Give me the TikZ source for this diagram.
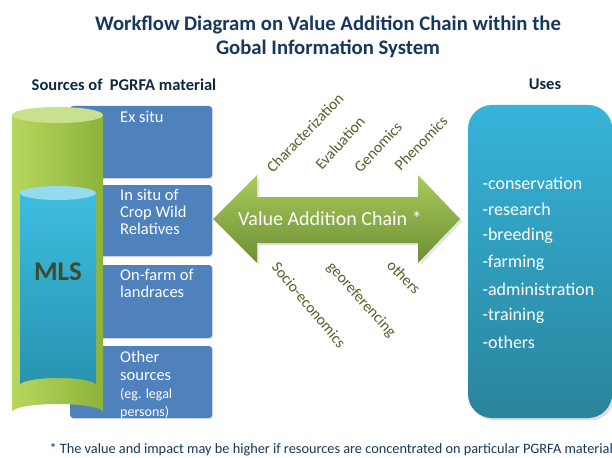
\documentclass[tikz,border=0pt]{standalone}
\usepackage{fontspec}
\setmainfont{Carlito}
\usetikzlibrary{shadows}
\definecolor{titleblue}{HTML}{17375E}
\definecolor{boxblue}{HTML}{4F81BD}
\definecolor{darkgreen}{HTML}{4F6228}
\definecolor{glight}{HTML}{B8D65E}
\definecolor{gdark}{HTML}{8DB33A}
\definecolor{gtop}{HTML}{C9E08F}
\definecolor{btop}{HTML}{93DCEF}
\definecolor{blight}{HTML}{3EBDE0}
\definecolor{bdark}{HTML}{2793AF}
\definecolor{alight}{HTML}{A9CA5B}
\definecolor{adark}{HTML}{6E8F33}
\definecolor{ulight}{HTML}{36B4DA}
\definecolor{udark}{HTML}{2A849C}
\definecolor{mlscol}{HTML}{3D4B33}
\begin{document}
\begin{tikzpicture}[x=1pt,y=-1pt,
  srcbox/.style={fill=boxblue,rounded corners=3pt,drop shadow={opacity=0.25,shadow xshift=1pt,shadow yshift=-1pt}},
  srctext/.style={text=white,anchor=north west,align=left,inner sep=0pt,font=\fontsize{16.5}{17}\selectfont},
  vlabel/.style={text=darkgreen,font=\fontsize{15.5}{17}\selectfont},
  uselabel/.style={text=white,anchor=west,font=\fontsize{18}{20}\selectfont},
  heading/.style={text=titleblue!70!black,font=\bfseries\fontsize{16.5}{18}\selectfont}]
\useasboundingbox (0,0) rectangle (612,457);
\fill[white] (0,0) rectangle (612,457);
% title
\node[text=titleblue,font=\bfseries\fontsize{20.7}{24}\selectfont,align=center] (title) at (328,37) {Workflow Diagram on Value Addition Chain within the\\Gobal Information System};
\node[heading] (srchead) at (124,85) {Sources of~~PGRFA material};
\node[heading] (useshead) at (545,84) {Uses};
% source boxes
\fill[srcbox] (70,106) rectangle (212,178);
\fill[srcbox] (70,185) rectangle (212,256);
\fill[srcbox] (70,265) rectangle (212,338);
\fill[srcbox] (70,346) rectangle (212,418);
% green cylinder
\shade[left color=glight,right color=gdark] (12,115) -- (12,412) arc[start angle=180,end angle=360,x radius=45.5,y radius=8] -- (103,115) -- cycle;
\fill[gtop] (57.5,115) ellipse[x radius=45.5,y radius=8];
% blue cylinder
\shade[top color=blight,bottom color=bdark] (20,193) -- (20,385) arc[start angle=180,end angle=360,x radius=38,y radius=7] -- (96,193) -- cycle;
\fill[btop] (58,193) ellipse[x radius=38,y radius=7];
\node[text=mlscol,font=\bfseries\fontsize{27}{30}\selectfont] (mls) at (58,272) {MLS};
% box texts
\node[srctext] (exsitu) at (120,111) {Ex situ};
\node[srctext] (insitu) at (120,189) {In situ of\\Crop Wild\\Relatives};
\node[srctext] (onfarm) at (120,269) {On-farm of\\landraces};
\node[srctext,font=\fontsize{16.5}{18}\selectfont] (other) at (120,351) {Other\\sources\\{\fontsize{14}{18}\selectfont (eg. legal}\\{\fontsize{14}{17}\selectfont persons)}};
% arrow
\shade[top color=alight,bottom color=adark,drop shadow={opacity=0.2}] (213,219) -- (257,175) -- (257,197) -- (418,197) -- (418,175) -- (460,219) -- (418,263) -- (418,243) -- (257,243) -- (257,263) -- cycle;
\node[text=white,font=\fontsize{20}{22}\selectfont] (vac) at (330,218) {Value Addition Chain *};
% rotated labels
\node[vlabel,rotate=46] (char) at (305,133) {Characterization};
\node[vlabel,rotate=48] (eval) at (340,143) {Evaluation};
\node[vlabel,rotate=47] (geno) at (378,147) {Genomics};
\node[vlabel,rotate=46] (pheno) at (421,143) {Phenomics};
\node[vlabel,rotate=-50] (socio) at (309,305) {Socio-economics};
\node[vlabel,rotate=-48] (geo) at (361,300) {georeferencing};
\node[vlabel,rotate=-46] (oth) at (404,277) {others};
% uses box
\shade[top color=ulight,bottom color=udark,rounded corners=24pt,drop shadow={opacity=0.25}] (468,105) rectangle (612,418);
\node[uselabel] (u1) at (479,183) {-conservation};
\node[uselabel] (u2) at (479,209.5) {-research};
\node[uselabel] (u3) at (479,236) {-breeding};
\node[uselabel] (u4) at (479,262.5) {-farming};
\node[uselabel] (u5) at (479,289) {-administration};
\node[uselabel] (u6) at (479,315.5) {-training};
\node[uselabel] (u7) at (479,342) {-others};
% footnote
\node[text=titleblue,anchor=west,font=\fontsize{14.3}{16}\selectfont] (foot) at (46,450) {* The value and impact may be higher if resources are concentrated on particular PGRFA material};
\end{tikzpicture}
\end{document}
